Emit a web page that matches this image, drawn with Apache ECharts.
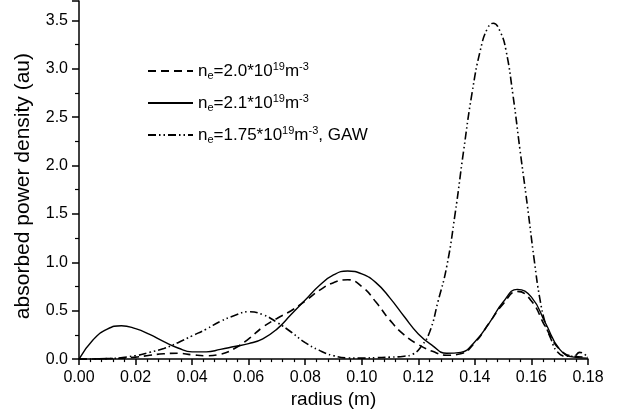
<!DOCTYPE html>
<html>
<head>
<meta charset="utf-8">
<script src="https://cdn.jsdelivr.net/npm/echarts@6/dist/echarts.min.js"></script>
<style>
  html, body { margin: 0; padding: 0; background: #fff; }
  #chart { width: 618px; height: 414px; }
</style>
</head>
<body>
<div id="chart"></div>
<script>
// n_e = 2.0*10^19 m^-3 (dashed)
const radius20 = [0, 0.01, 0.02, 0.025, 0.03, 0.035, 0.04, 0.045, 0.05, 0.055, 0.06, 0.065, 0.07, 0.075, 0.08, 0.085, 0.09, 0.095, 0.1, 0.105, 0.11, 0.115, 0.12, 0.125, 0.13, 0.135, 0.14, 0.145, 0.15, 0.155, 0.16, 0.165, 0.17, 0.175, 0.18];
const power20 = [0, 0.005, 0.02, 0.04, 0.055, 0.06, 0.045, 0.035, 0.05, 0.11, 0.21, 0.33, 0.42, 0.5, 0.6, 0.71, 0.79, 0.82, 0.75, 0.59, 0.4, 0.25, 0.15, 0.08, 0.04, 0.055, 0.17, 0.37, 0.57, 0.7, 0.6, 0.33, 0.1, 0.03, 0.02];

// n_e = 2.1*10^19 m^-3 (solid)
const radius21 = [0, 0.005, 0.01, 0.015, 0.02, 0.025, 0.03, 0.035, 0.04, 0.045, 0.05, 0.055, 0.06, 0.065, 0.07, 0.075, 0.08, 0.085, 0.09, 0.095, 0.1, 0.105, 0.11, 0.115, 0.12, 0.125, 0.13, 0.135, 0.14, 0.145, 0.15, 0.155, 0.16, 0.165, 0.17, 0.175, 0.18];
const power21 = [0, 0.2, 0.31, 0.345, 0.315, 0.255, 0.18, 0.115, 0.075, 0.075, 0.1, 0.13, 0.16, 0.21, 0.31, 0.46, 0.61, 0.76, 0.87, 0.91, 0.88, 0.79, 0.63, 0.44, 0.26, 0.14, 0.06, 0.07, 0.18, 0.37, 0.59, 0.72, 0.64, 0.37, 0.1, 0.02, 0.01];

// n_e = 1.75*10^19 m^-3, GAW (dash-dot-dot)
const radiusGaw = [0, 0.01, 0.02, 0.025, 0.03, 0.035, 0.04, 0.045, 0.05, 0.055, 0.06, 0.065, 0.07, 0.075, 0.08, 0.085, 0.09, 0.095, 0.1, 0.105, 0.11, 0.115, 0.118, 0.121, 0.124, 0.127, 0.13, 0.133, 0.136, 0.139, 0.142, 0.1445, 0.1465, 0.149, 0.151, 0.1535, 0.156, 0.1585, 0.161, 0.163, 0.165, 0.167, 0.169, 0.172, 0.175, 0.177, 0.18];
const powerGaw = [0, 0.005, 0.035, 0.07, 0.11, 0.17, 0.24, 0.31, 0.39, 0.45, 0.49, 0.46, 0.38, 0.28, 0.17, 0.09, 0.035, 0.012, 0.01, 0.015, 0.02, 0.03, 0.05, 0.13, 0.28, 0.6, 0.95, 1.5, 2.15, 2.75, 3.2, 3.42, 3.47, 3.38, 3.19, 2.72, 2.15, 1.6, 1.02, 0.62, 0.36, 0.2, 0.08, 0.03, 0.03, 0.07, 0.02];

// legend labels: [density, suffix]
const legendLabels = {
  ne20: ['2.0', ''],
  ne21: ['2.1', ''],
  gaw: ['1.75', ', GAW']
};

const FONT = '"Liberation Sans", Arial, sans-serif';

function pairs(xs, ys) {
  return xs.map((x, i) => [x, ys[i]]);
}

const chart = echarts.init(document.getElementById('chart'));

const baseLine = {
  type: 'line',
  symbol: 'none',
  smooth: 0.5,
  color: '#000'
};

chart.setOption({
  backgroundColor: '#fff',
  animation: false,
  textStyle: { fontFamily: FONT, color: '#000' },
  grid: { left: 79, right: 30, top: 1, bottom: 54 },
  legend: {
    orient: 'vertical',
    left: 142,
    top: 56,
    itemWidth: 45,
    itemHeight: 14,
    itemGap: 12,
    data: ['ne20', 'ne21', 'gaw'],
    // hide the default marker on the line icon
    itemStyle: { color: 'rgba(0,0,0,0)', borderColor: 'rgba(0,0,0,0)', borderWidth: 0 },
    formatter: (name) => {
      const l = legendLabels[name];
      return '{m|n}{sub|e}{m|=' + l[0] + '*10}{sup|19}{m|m}{sup|-3}' + (l[1] ? '{m|' + l[1] + '}' : '');
    },
    textStyle: {
      fontFamily: FONT,
      color: '#000',
      rich: {
        m: { fontSize: 17, lineHeight: 20, fontFamily: FONT, color: '#000' },
        sup: { fontSize: 11, lineHeight: 11, verticalAlign: 'top', fontFamily: FONT, color: '#000' },
        sub: { fontSize: 11, lineHeight: 11, verticalAlign: 'bottom', fontFamily: FONT, color: '#000' }
      }
    }
  },
  xAxis: {
    type: 'value',
    min: 0,
    max: 0.18,
    interval: 0.02,
    name: 'radius (m)',
    nameLocation: 'middle',
    nameGap: 30,
    nameTextStyle: { fontSize: 19, fontFamily: FONT, color: '#000' },
    axisLine: { onZero: false, lineStyle: { color: '#000', width: 1.5 } },
    axisTick: { inside: false, length: 6, lineStyle: { color: '#000', width: 1.5 } },
    minorTick: { show: true, splitNumber: 5, length: 3, lineStyle: { color: '#000', width: 1.2 } },
    axisLabel: { fontSize: 16, margin: 10, color: '#000', fontFamily: FONT, formatter: (v) => v.toFixed(2) },
    splitLine: { show: false }
  },
  yAxis: {
    type: 'value',
    min: 0,
    max: 3.7,
    interval: 0.5,
    name: 'absorbed power density (au)',
    nameLocation: 'middle',
    nameGap: 45,
    nameTextStyle: { fontSize: 21, fontFamily: FONT, color: '#000', padding: [0, 12, 0, 0] },
    axisLine: { onZero: false, lineStyle: { color: '#000', width: 1.5 } },
    axisTick: { inside: false, length: 7, lineStyle: { color: '#000', width: 1.5 } },
    minorTick: { show: true, splitNumber: 2, length: 4, lineStyle: { color: '#000', width: 1.2 } },
    axisLabel: { fontSize: 16, margin: 11, color: '#000', fontFamily: FONT, showMaxLabel: false, formatter: (v) => v.toFixed(1) },
    splitLine: { show: false }
  },
  series: [
    Object.assign({}, baseLine, {
      name: 'ne20',
      lineStyle: { color: '#000', width: 1.6, type: [8, 5] },
      data: pairs(radius20, power20)
    }),
    Object.assign({}, baseLine, {
      name: 'ne21',
      lineStyle: { color: '#000', width: 1.4, type: 'solid' },
      data: pairs(radius21, power21)
    }),
    Object.assign({}, baseLine, {
      name: 'gaw',
      lineStyle: { color: '#000', width: 1.6, type: [8, 3, 1.5, 3, 1.5, 3] },
      data: pairs(radiusGaw, powerGaw)
    })
  ]
});
</script>
</body>
</html>
